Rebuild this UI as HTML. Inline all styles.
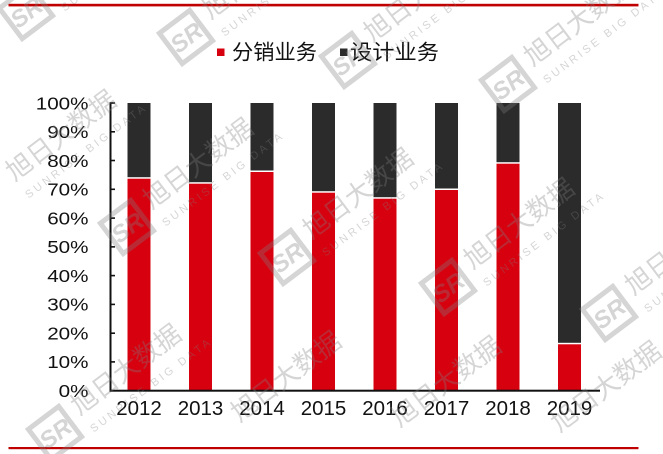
<!DOCTYPE html>
<html>
<head>
<meta charset="utf-8">
<style>
html,body{margin:0;padding:0;background:#fff;width:663px;height:454px;overflow:hidden;}
#wrap{width:663px;height:454px;overflow:hidden;position:relative;}
svg{display:block;overflow:hidden;}
</style>
</head>
<body>
<div id="wrap">
<svg width="663" height="454" viewBox="0 0 663 454" xmlns="http://www.w3.org/2000/svg">
<defs><clipPath id="cp"><rect x="0" y="0" width="663" height="454"/></clipPath></defs>
<rect width="663" height="454" fill="#fff"/>

<!-- frame lines -->
<rect x="8.5" y="3.8" width="630" height="2.6" fill="#c00000"/>
<rect x="8.5" y="447" width="630" height="2.2" fill="#c00000"/>

<!-- legend -->
<rect x="217" y="48.5" width="7.5" height="7.5" fill="#d7000f"/>
<text x="232" y="59.5" font-family="Liberation Sans, 'Noto Sans CJK SC', sans-serif" font-size="21" fill="#111" textLength="85" lengthAdjust="spacingAndGlyphs">分销业务</text>
<rect x="340" y="48.5" width="7.5" height="7.5" fill="#2b2b2b"/>
<text x="350" y="59.5" font-family="Liberation Sans, 'Noto Sans CJK SC', sans-serif" font-size="21" fill="#111" textLength="89" lengthAdjust="spacingAndGlyphs">设计业务</text>

<!-- bars -->
<g>
<rect x="127.5" y="103" width="23" height="74.2" fill="#2b2b2b"/><rect x="127.5" y="178.7" width="23" height="211.5" fill="#d7000f"/>
<rect x="189" y="103" width="23" height="79.2" fill="#2b2b2b"/><rect x="189" y="183.7" width="23" height="206.5" fill="#d7000f"/>
<rect x="250.5" y="103" width="23" height="67.5" fill="#2b2b2b"/><rect x="250.5" y="172" width="23" height="218.2" fill="#d7000f"/>
<rect x="312" y="103" width="23" height="88.2" fill="#2b2b2b"/><rect x="312" y="192.7" width="23" height="197.5" fill="#d7000f"/>
<rect x="373.5" y="103" width="23" height="94.2" fill="#2b2b2b"/><rect x="373.5" y="198.7" width="23" height="191.5" fill="#d7000f"/>
<rect x="435" y="103" width="23" height="85.5" fill="#2b2b2b"/><rect x="435" y="190" width="23" height="200.2" fill="#d7000f"/>
<rect x="496.5" y="103" width="23" height="59.2" fill="#2b2b2b"/><rect x="496.5" y="163.7" width="23" height="226.5" fill="#d7000f"/>
<rect x="558" y="103" width="23" height="239.8" fill="#2b2b2b"/><rect x="558" y="344.3" width="23" height="45.9" fill="#d7000f"/>
</g>

<!-- axes -->
<rect x="109.5" y="102.2" width="2" height="289.5" fill="#111"/>
<rect x="109.5" y="389.7" width="490.5" height="2" fill="#111"/>
<g stroke="#111" stroke-width="1.6">
<line x1="110" y1="103" x2="115" y2="103"/>
<line x1="110" y1="131.8" x2="115" y2="131.8"/>
<line x1="110" y1="160.5" x2="115" y2="160.5"/>
<line x1="110" y1="189.3" x2="115" y2="189.3"/>
<line x1="110" y1="218.1" x2="115" y2="218.1"/>
<line x1="110" y1="246.85" x2="115" y2="246.85"/>
<line x1="110" y1="275.6" x2="115" y2="275.6"/>
<line x1="110" y1="304.4" x2="115" y2="304.4"/>
<line x1="110" y1="333.2" x2="115" y2="333.2"/>
<line x1="110" y1="361.9" x2="115" y2="361.9"/>
</g>

<!-- y labels -->
<g transform="translate(88.5,0) scale(1.18,1)" font-family="Liberation Sans, Arial, sans-serif" font-size="17.5" fill="#111" text-anchor="end">
<text x="0" y="109.3">100%</text>
<text x="0" y="138.1">90%</text>
<text x="0" y="166.8">80%</text>
<text x="0" y="195.6">70%</text>
<text x="0" y="224.4">60%</text>
<text x="0" y="253.15">50%</text>
<text x="0" y="281.9">40%</text>
<text x="0" y="310.7">30%</text>
<text x="0" y="339.5">20%</text>
<text x="0" y="368.2">10%</text>
<text x="0" y="397">0%</text>
</g>

<!-- x labels -->
<g font-family="Liberation Sans, Arial, sans-serif" font-size="20.5" fill="#111" text-anchor="middle">
<text x="139" y="415">2012</text>
<text x="200.5" y="415">2013</text>
<text x="262" y="415">2014</text>
<text x="323.5" y="415">2015</text>
<text x="385" y="415">2016</text>
<text x="446.5" y="415">2017</text>
<text x="508" y="415">2018</text>
<text x="569.5" y="415">2019</text>
</g>

<!-- watermarks -->
<g clip-path="url(#cp)" opacity="0.33" fill="#808080" font-family="Liberation Sans, 'Noto Sans CJK SC', sans-serif">
<g transform="translate(26,12) rotate(-37)"><rect x="-19" y="-19" width="38" height="38" fill="none" stroke="#808080" stroke-width="5"/><text x="0" y="9" font-size="24" font-weight="bold" font-style="italic" text-anchor="middle">SR</text><text x="30" y="1" font-size="26">旭日大数据</text><text x="31" y="23" font-size="11" letter-spacing="3">SUNRISE BIG DATA</text></g>
<g transform="translate(186,37) rotate(-37)"><rect x="-19" y="-19" width="38" height="38" fill="none" stroke="#808080" stroke-width="5"/><text x="0" y="9" font-size="24" font-weight="bold" font-style="italic" text-anchor="middle">SR</text><text x="30" y="1" font-size="26">旭日大数据</text><text x="31" y="23" font-size="11" letter-spacing="3">SUNRISE BIG DATA</text></g>
<g transform="translate(348,60) rotate(-37)"><rect x="-19" y="-19" width="38" height="38" fill="none" stroke="#808080" stroke-width="5"/><text x="0" y="9" font-size="24" font-weight="bold" font-style="italic" text-anchor="middle">SR</text><text x="30" y="1" font-size="26">旭日大数据</text><text x="31" y="23" font-size="11" letter-spacing="3">SUNRISE BIG DATA</text></g>
<g transform="translate(508,84) rotate(-37)"><rect x="-19" y="-19" width="38" height="38" fill="none" stroke="#808080" stroke-width="5"/><text x="0" y="9" font-size="24" font-weight="bold" font-style="italic" text-anchor="middle">SR</text><text x="30" y="1" font-size="26">旭日大数据</text><text x="31" y="23" font-size="11" letter-spacing="3">SUNRISE BIG DATA</text></g>

<g transform="translate(-10,199) rotate(-37)"><text x="30" y="1" font-size="26">旭日大数据</text><text x="31" y="23" font-size="11" letter-spacing="3">SUNRISE BIG DATA</text></g>
<g transform="translate(127,227) rotate(-37)"><rect x="-19" y="-19" width="38" height="38" fill="none" stroke="#808080" stroke-width="5"/><text x="0" y="9" font-size="24" font-weight="bold" font-style="italic" text-anchor="middle">SR</text><text x="30" y="1" font-size="26">旭日大数据</text><text x="31" y="23" font-size="11" letter-spacing="3">SUNRISE BIG DATA</text></g>
<g transform="translate(287,257) rotate(-37)"><rect x="-19" y="-19" width="38" height="38" fill="none" stroke="#808080" stroke-width="5"/><text x="0" y="9" font-size="24" font-weight="bold" font-style="italic" text-anchor="middle">SR</text><text x="30" y="1" font-size="26">旭日大数据</text><text x="31" y="23" font-size="11" letter-spacing="3">SUNRISE BIG DATA</text></g>
<g transform="translate(448,287) rotate(-37)"><rect x="-19" y="-19" width="38" height="38" fill="none" stroke="#808080" stroke-width="5"/><text x="0" y="9" font-size="24" font-weight="bold" font-style="italic" text-anchor="middle">SR</text><text x="30" y="1" font-size="26">旭日大数据</text><text x="31" y="23" font-size="11" letter-spacing="3">SUNRISE BIG DATA</text></g>
<g transform="translate(609,313) rotate(-37)"><rect x="-19" y="-19" width="38" height="38" fill="none" stroke="#808080" stroke-width="5"/><text x="0" y="9" font-size="24" font-weight="bold" font-style="italic" text-anchor="middle">SR</text><text x="30" y="1" font-size="26">旭日大数据</text><text x="31" y="23" font-size="11" letter-spacing="3">SUNRISE BIG DATA</text></g>

<g transform="translate(55,433) rotate(-37)"><rect x="-19" y="-19" width="38" height="38" fill="none" stroke="#808080" stroke-width="5"/><text x="0" y="9" font-size="24" font-weight="bold" font-style="italic" text-anchor="middle">SR</text><text x="30" y="1" font-size="26">旭日大数据</text><text x="31" y="23" font-size="11" letter-spacing="3">SUNRISE BIG DATA</text></g>
<g transform="translate(215,440) rotate(-37)"><text x="30" y="1" font-size="26">旭日大数据</text></g>
<g transform="translate(375,445) rotate(-37)"><text x="30" y="1" font-size="26">旭日大数据</text></g>
<g transform="translate(535,450) rotate(-37)"><text x="30" y="1" font-size="26">旭日大数据</text></g>
</g>
</svg>
</div>
</body>
</html>
